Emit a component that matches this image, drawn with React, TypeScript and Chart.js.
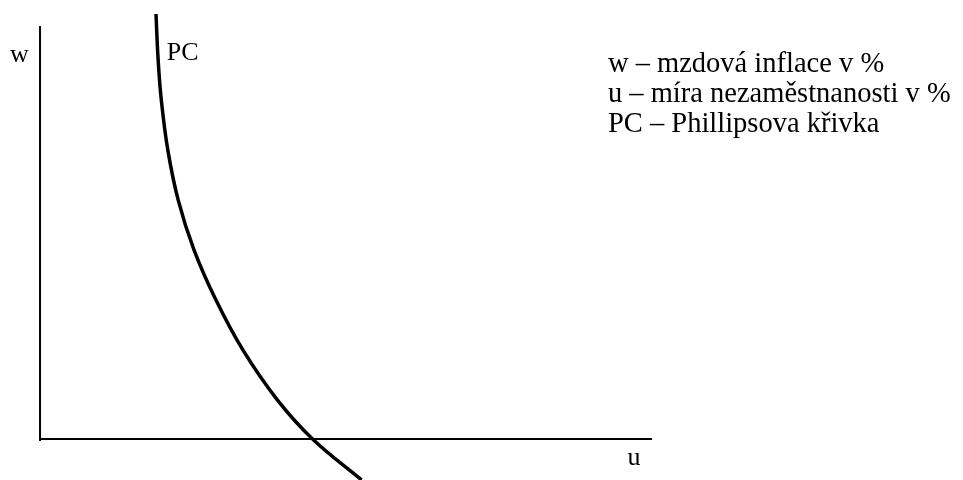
import React, { useEffect, useRef } from "react";
import { Chart, registerables } from "chart.js";

Chart.register(...registerables);

// Phillips curve (u = unemployment, w = wage inflation)
const curveU = [1.895, 1.93, 1.982, 2.088, 2.257, 2.516, 2.873, 3.317, 3.881, 4.453, 5.253];
const curveW = [10.29, 9.18, 8.21, 7.0, 5.79, 4.58, 3.37, 2.15, 0.94, 0, -0.99];

// axes of the diagram
const uAxisU = [0, 10];
const uAxisW = [0, 0];
const wAxisU = [0, 0];
const wAxisW = [-0.05, 10];

const legendLines = [
  "w – mzdová inflace v %",
  "u – míra nezaměstnanosti v %",
  "PC – Phillipsova křivka",
];

const axisLabels = [
  { text: "w", u: -0.49, w: 9.13 },
  { text: "PC", u: 2.07, w: 9.18 },
  { text: "u", u: 9.6, w: -0.63 },
];

const LABEL_FONT = '26px "Liberation Serif", "Times New Roman", serif';
const LEGEND_FONT = '28.5px "Liberation Serif", "Times New Roman", serif';

const textPlugin = {
  id: "diagramText",
  afterDatasetsDraw(chart: any) {
    const { ctx, scales } = chart;
    const xs = scales.x;
    const ys = scales.y;
    ctx.save();
    ctx.fillStyle = "#000";
    ctx.textBaseline = "alphabetic";
    ctx.textAlign = "left";
    ctx.font = LABEL_FONT;
    axisLabels.forEach((l) => {
      ctx.fillText(l.text, xs.getPixelForValue(l.u), ys.getPixelForValue(l.w));
    });
    ctx.font = LEGEND_FONT;
    const lx = xs.getPixelForValue(9.28);
    const ly = ys.getPixelForValue(8.89);
    legendLines.forEach((t, i) => {
      ctx.fillText(t, lx, ly + i * 30);
    });
    ctx.restore();
  },
};

export default function App() {
  const ref = useRef<HTMLCanvasElement | null>(null);
  useEffect(() => {
    if (!ref.current) return;
    const toPts = (a: number[], b: number[]) => a.map((v, i) => ({ x: v, y: b[i] }));
    const chart = new Chart(ref.current, {
      type: "line",
      data: {
        datasets: [
          {
            data: toPts(uAxisU, uAxisW),
            borderColor: "#000",
            borderWidth: 2,
            pointRadius: 0,
            tension: 0,
          },
          {
            data: toPts(wAxisU, wAxisW),
            borderColor: "#000",
            borderWidth: 2,
            pointRadius: 0,
            tension: 0,
          },
          {
            data: toPts(curveU, curveW),
            borderColor: "#000",
            borderWidth: 3.5,
            pointRadius: 0,
            tension: 0.4,
            clip: false as any,
          },
        ],
      },
      options: {
        animation: false,
        responsive: true,
        maintainAspectRatio: false,
        layout: { padding: 0 },
        scales: {
          x: { type: "linear", display: false, min: -0.654, max: 15.082 },
          y: { type: "linear", display: false, min: -0.993, max: 10.63 },
        },
        plugins: {
          legend: { display: false },
          tooltip: { enabled: false },
        },
      },
      plugins: [textPlugin],
    });
    return () => chart.destroy();
  }, []);
  return (
    <div style={{ position: "absolute", left: 0, top: 0, width: 963, height: 480, background: "#fff" }}>
      <canvas ref={ref} />
    </div>
  );
}
